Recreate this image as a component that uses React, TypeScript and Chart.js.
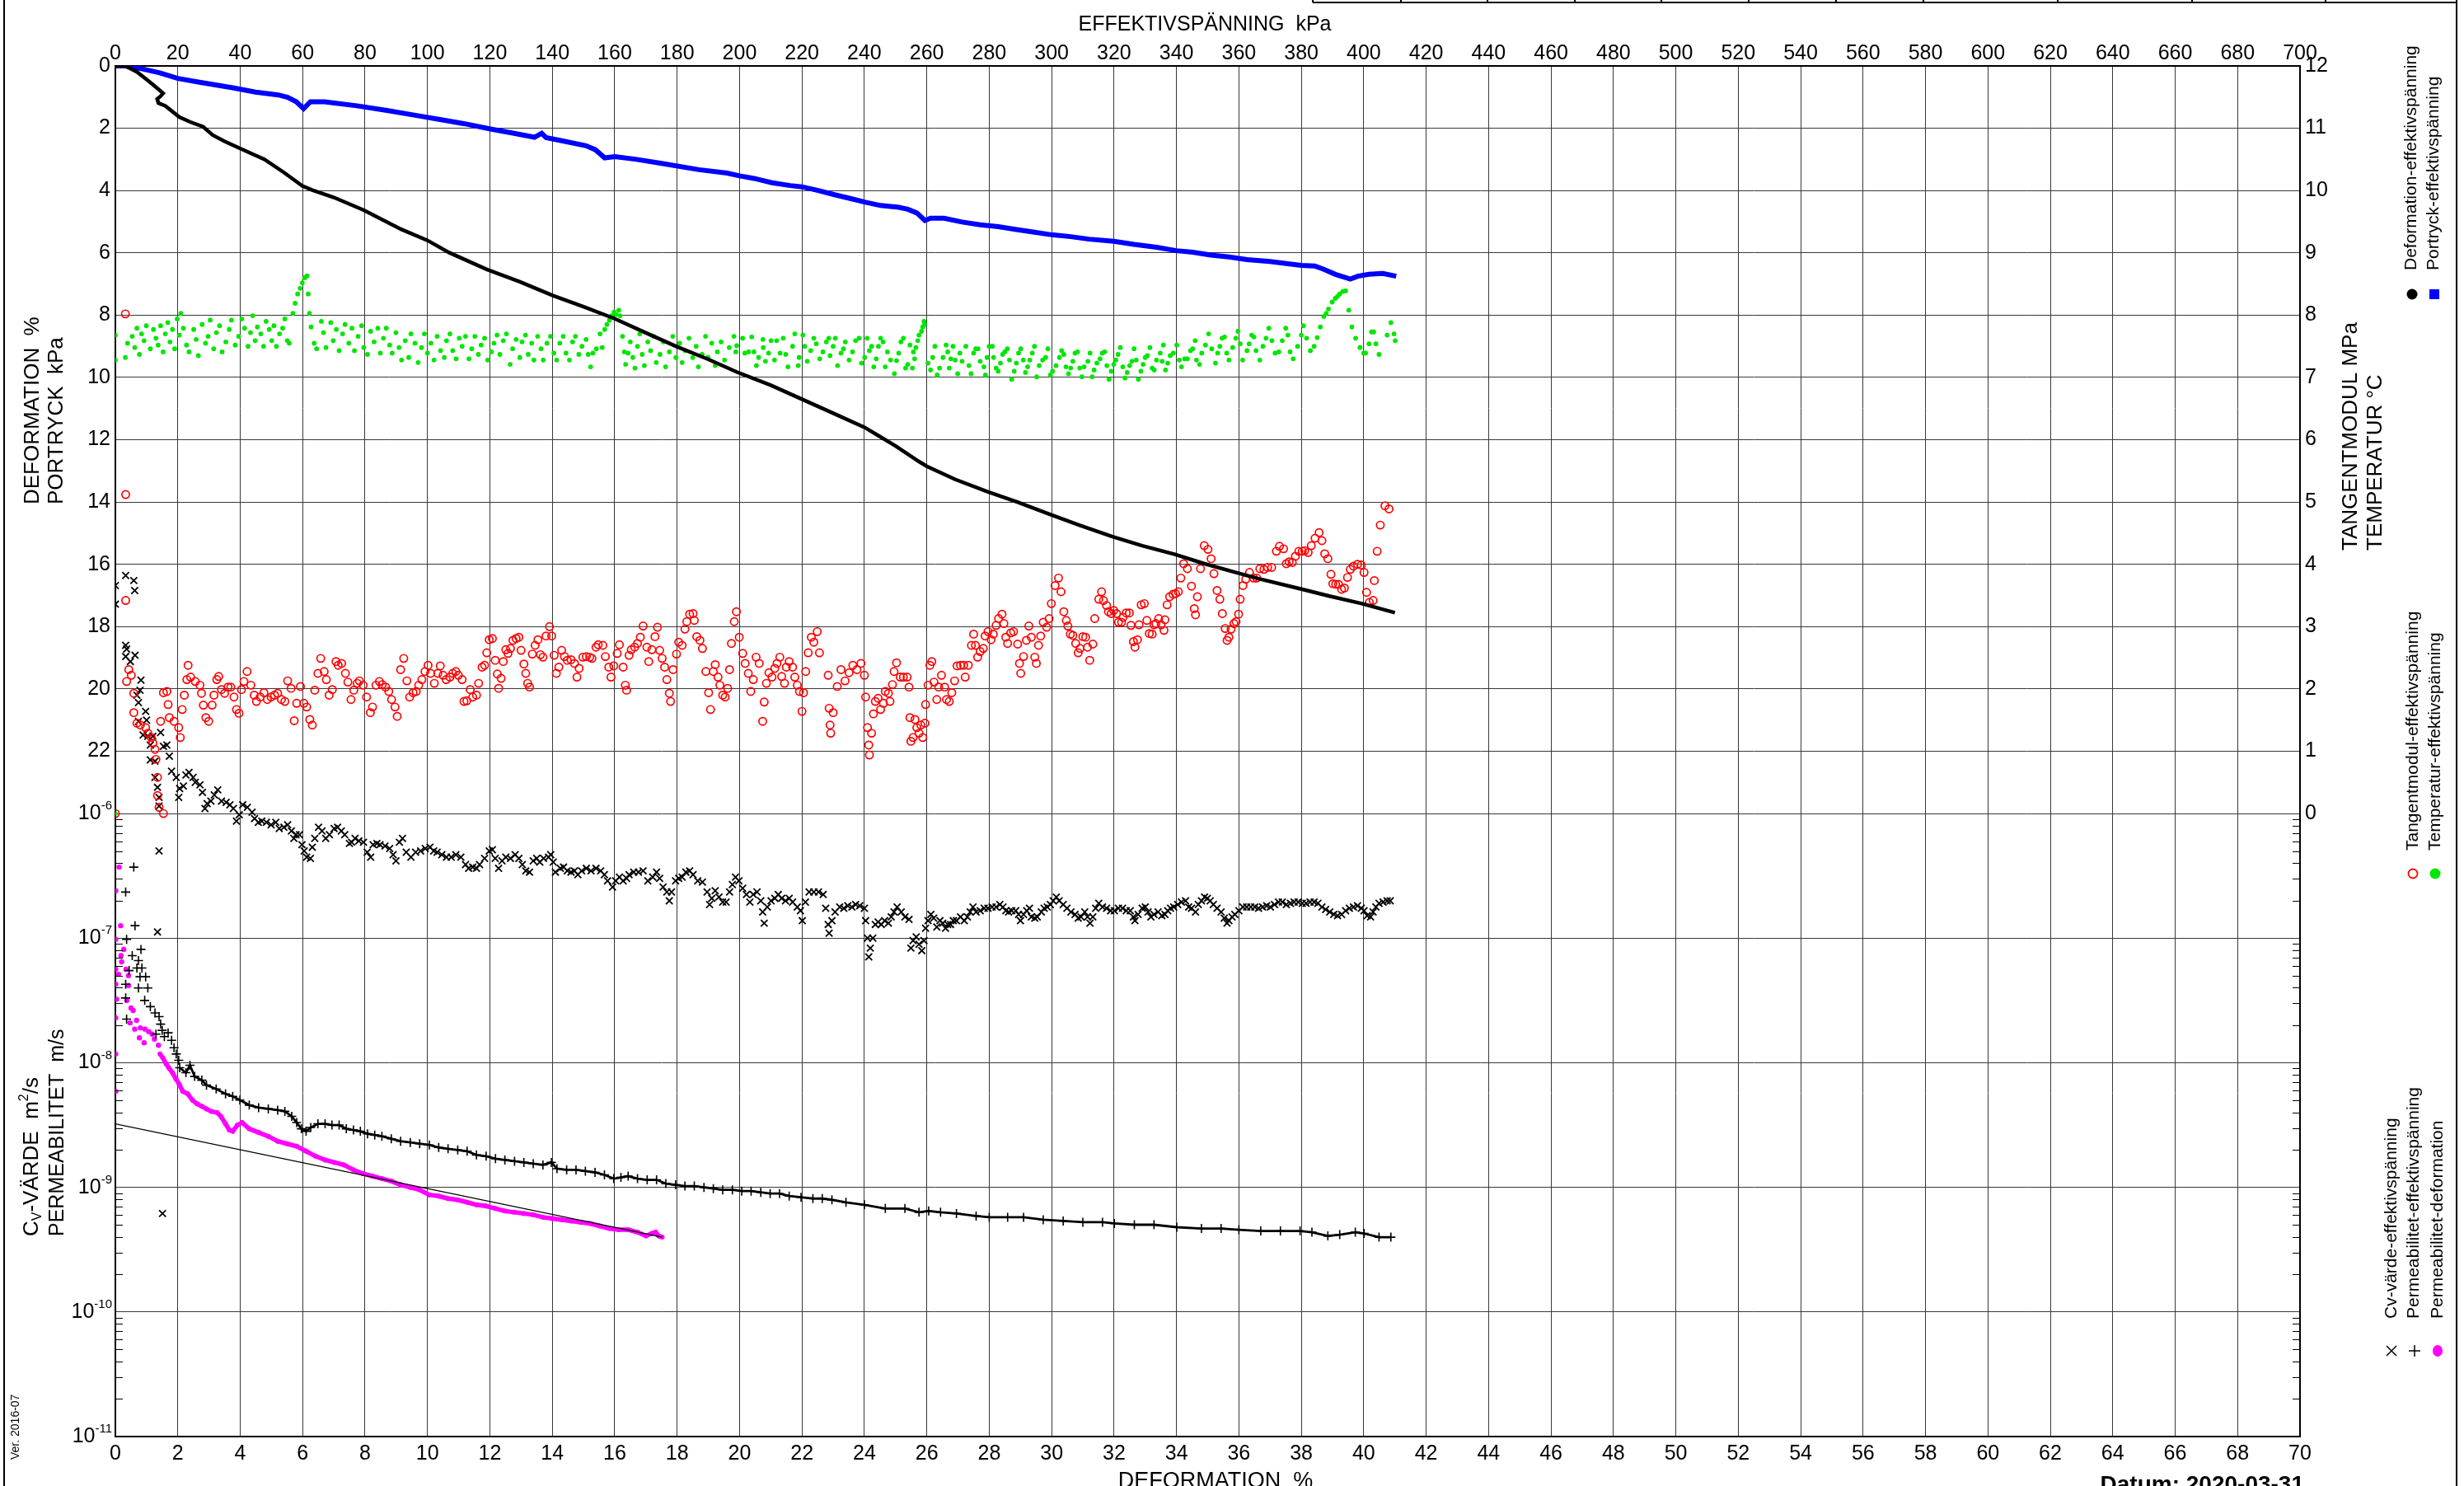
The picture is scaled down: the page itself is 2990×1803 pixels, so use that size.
import React, { useEffect, useRef } from 'react';
import { Chart, registerables } from 'chart.js';
Chart.register(...registerables);

const FONT = '"Liberation Sans", Arial, Helvetica, sans-serif';

// ---------- tick labels ----------
const kpaTicks = [0,20,40,60,80,100,120,140,160,180,200,220,240,260,280,300,320,340,360,380,400,420,440,460,480,500,520,540,560,580,600,620,640,660,680,700];
const defTicks = [0,2,4,6,8,10,12,14,16,18,20,22,24,26,28,30,32,34,36,38,40,42,44,46,48,50,52,54,56,58,60,62,64,66,68,70];
const leftTicks = [0,2,4,6,8,10,12,14,16,18,20,22];
const rightTicks = [0,1,2,3,4,5,6,7,8,9,10,11,12];
const logExps = [-6,-7,-8,-9,-10,-11];
const minorMant = [2,3,4,5,6,7,8,9];
const minorExps = [-11,-10,-9,-8,-7];

// ---------- series (x = effective stress kPa unless noted) ----------
// Deformation % vs effective stress
const defCurve = [[0,0],[3.2,0],[6.9,0.19],[10.7,0.49],[13.8,0.75],[15.3,0.88],[14.5,0.97],[13.4,1.06],[13.8,1.19],[16,1.28],[20.5,1.64],[24,1.8],[28.1,1.95],[31.2,2.22],[35,2.42],[40.2,2.66],[47.8,3.0],[54,3.42],[59.9,3.85],[62.9,3.98],[70,4.22],[79.6,4.63],[91.7,5.25],[100,5.6],[106.9,5.99],[119,6.53],[129.6,6.93],[140.2,7.37],[150,7.73],[159.9,8.11],[170,8.57],[179.6,9.0],[190,9.42],[199.2,9.83],[210,10.25],[220,10.7],[230,11.15],[240,11.6],[245,11.9],[250,12.2],[257.5,12.7],[260,12.85],[269,13.27],[279.3,13.66],[289,14.0],[299.3,14.39],[309,14.75],[319.5,15.11],[329,15.4],[339.5,15.68],[349,15.98],[359.3,16.27],[366.3,16.46],[379.5,16.78],[389,17.02],[399.4,17.26],[410,17.55]];

// Pore pressure kPa vs effective stress
const poreCurve = [[0,0],[3.2,0],[8.4,0.09],[14.2,0.22],[20,0.4],[27.3,0.53],[37.6,0.7],[44.9,0.84],[52.2,0.93],[55.2,1.01],[58,1.15],[60.3,1.37],[62.5,1.15],[67,1.15],[77.4,1.28],[87,1.43],[96.5,1.59],[104,1.72],[111.6,1.85],[120.5,2.03],[127,2.15],[134.3,2.29],[136.6,2.16],[138,2.3],[143,2.4],[150.8,2.56],[153.8,2.69],[156.8,2.95],[160,2.91],[167,3.0],[175,3.13],[187,3.33],[196,3.44],[200,3.53],[204.6,3.61],[210.4,3.75],[216.2,3.84],[220,3.88],[224.9,3.99],[230.7,4.14],[236.5,4.28],[240,4.37],[245.2,4.48],[251,4.54],[253.9,4.6],[256.8,4.72],[259.4,4.96],[261.2,4.89],[265.5,4.89],[271.3,5.01],[277.1,5.1],[282.9,5.16],[288.7,5.25],[294.5,5.34],[299.9,5.42],[306.1,5.48],[311.9,5.56],[319.9,5.63],[326.4,5.73],[333.6,5.82],[339.9,5.93],[345.2,5.98],[351,6.07],[356.8,6.13],[362.6,6.22],[369.9,6.28],[375.7,6.35],[380,6.4],[384.3,6.42],[387.2,6.53],[390.9,6.69],[395.7,6.84],[398.1,6.75],[401.7,6.69],[406.1,6.66],[410.4,6.75]];

// Tangent modulus MPa vs effective stress
const modPts = [[0,0],[3.2,8.02],[3.3,5.12],[3.3,3.42],[4.3,2.31],[3.6,2.12],[5.1,2.22],[5.9,1.93],[5.9,1.62],[6.9,1.45],[8,1.42],[9.7,1.38],[10.4,1.29],[11.5,1.22],[12,1.13],[12.7,1.03],[13,0.87],[13.5,0.58],[13.5,0.29],[14,0.1],[15.4,0.0],[14.5,1.48],[15.4,1.94],[16.5,1.96],[16.9,1.75],[17.3,1.54],[18.8,1.48],[20.3,1.38],[20.8,1.22],[21.4,1.67],[22.1,1.9],[22.9,2.15],[23.3,2.38],[24.1,2.19],[25.6,2.12],[27.1,2.06],[27.6,1.93],[28.2,1.74],[29,1.54],[29.9,1.48],[31,1.74],[31.6,1.9],[32.5,2.15],[33.1,2.2],[34,1.99],[35,1.93],[36.1,2.03],[37,2.03],[38,1.87],[38.8,1.67],[39.6,1.61],[40.4,1.99],[41.2,2.12],[42.2,2.28],[43.4,2.06],[44.5,1.9],[45.2,1.8],[46.4,1.87],[47.6,1.94],[48.7,1.83],[49.9,1.87],[51,1.9],[52,1.93],[53.2,1.83],[54.3,1.8],[55.2,2.13],[56.3,2.01],[57.3,1.49],[58.1,1.77],[59.3,2.04],[60.4,1.77],[61.3,1.71],[62.3,1.51],[63.1,1.42],[63.9,1.98],[64.9,2.25],[65.8,2.49],[66.9,2.28],[67.6,2.15],[68.5,1.9],[69.5,1.99],[70.7,2.44],[71.4,2.38],[72.5,2.41],[73.7,2.25],[74.5,2.11],[75.5,1.83],[76.4,1.98],[77.5,2.09],[78.2,2.13],[79.4,2.06],[80.5,1.87],[81.7,1.62],[82.4,1.71],[83.5,2.06],[84.6,2.12],[85.5,2.07],[86.6,2.03],[87.6,1.96],[88.5,1.83],[89.6,1.71],[90.3,1.56],[91.4,2.31],[92.4,2.49],[93.4,2.13],[94.3,1.87],[95.4,1.94],[96.4,1.96],[97.2,2.06],[98.2,2.15],[99.2,2.28],[100.2,2.38],[101,2.25],[102.2,2.09],[103.3,2.25],[104.1,2.37],[105,2.22],[106,2.15],[107.2,2.19],[108.1,2.25],[109.1,2.28],[109.9,2.22],[111.1,2.15],[111.7,1.8],[112.6,1.81],[113.7,1.99],[114.5,1.87],[115.7,1.9],[116.4,2.09],[117.5,2.35],[118.3,2.38],[119,2.58],[119.8,2.79],[120.8,2.81],[121.7,2.46],[122.4,2.24],[122.8,2.01],[123.6,2.17],[124.3,2.44],[125.1,2.63],[125.8,2.57],[126.6,2.65],[127.4,2.78],[128.4,2.81],[129.3,2.83],[130,2.62],[130.9,2.4],[131.5,2.25],[132.1,2.09],[132.7,2.03],[133.6,2.56],[134.5,2.7],[135.4,2.79],[136.2,2.55],[137,2.51],[138,2.85],[139.1,3.0],[139.8,2.85],[140.6,2.54],[141.3,2.25],[142.1,2.35],[143,2.62],[143.9,2.52],[144.8,2.46],[146,2.47],[147.1,2.41],[147.9,2.19],[148.6,2.33],[149.8,2.51],[150.9,2.52],[152,2.51],[152.7,2.49],[154,2.67],[154.7,2.71],[156.2,2.7],[157,2.52],[158.1,2.35],[158.8,2.19],[159.7,2.37],[160.8,2.57],[161.5,2.71],[162.7,2.35],[163.4,2.06],[163.8,1.98],[164.6,2.54],[165.3,2.63],[166.4,2.67],[167.3,2.73],[168.2,2.83],[169.1,3.01],[170.3,2.67],[170.9,2.44],[171.9,2.63],[172.9,2.84],[173.7,2.99],[174.4,2.62],[175.2,2.49],[176,2.35],[176.7,2.15],[177.5,1.93],[177.9,1.8],[178.7,2.31],[179.8,2.56],[180.5,2.75],[181.6,2.7],[182.5,2.96],[183.1,3.08],[184,3.2],[185.1,3.21],[185.5,3.1],[186.3,2.84],[187.3,2.78],[188.1,2.65],[189.2,2.28],[190.1,1.94],[190.7,1.67],[191.6,2.28],[192.2,2.39],[193.1,2.19],[193.7,2.06],[194.6,1.9],[195.4,1.87],[196.2,2.01],[196.8,2.31],[197.4,2.73],[198.3,3.08],[199,3.24],[199.9,2.83],[201,2.57],[201.8,2.41],[202.8,2.25],[203.6,1.96],[204.4,2.15],[205.3,2.51],[206.3,2.41],[207.4,1.48],[207.9,1.79],[208.6,2.09],[209.4,2.26],[210.4,2.19],[211.3,2.33],[212,2.41],[212.9,2.51],[213.5,2.2],[214.4,2.09],[215,2.35],[215.9,2.44],[217,2.35],[217.7,2.19],[218.5,2.06],[219.2,1.96],[220,1.64],[220.5,1.94],[221.2,2.28],[222,2.58],[223,2.83],[223.8,2.75],[224.9,2.92],[225.6,2.58],[228.4,2.22],[228.7,1.69],[229,1.42],[229.2,1.29],[230,1.62],[231.3,2.04],[232.5,2.31],[233.8,2.13],[235.1,2.26],[236.3,2.38],[237.6,2.31],[238.9,2.41],[240,2.22],[240.4,1.87],[241,1.38],[241.4,1.1],[241.6,0.94],[242.3,1.29],[242.9,1.6],[243.5,1.8],[244.4,1.85],[245.2,1.67],[246.1,1.77],[246.7,1.96],[247.7,1.93],[248.2,1.8],[249,2.07],[249.5,2.28],[250.3,2.42],[251.5,2.19],[252.5,2.19],[253.7,2.19],[254.3,2.03],[254.6,1.54],[254.9,1.16],[255.6,1.22],[256.2,1.51],[256.8,1.38],[257.5,1.29],[258.1,1.42],[258.7,1.22],[259.4,1.45],[259.6,1.75],[260.4,2.06],[261,2.38],[261.6,2.44],[262.3,2.11],[263.2,1.83],[263.8,2.03],[264.7,2.22],[265.7,2.03],[266.3,1.83],[267.2,1.8],[268,1.94],[268.9,2.13],[269.7,2.37],[270.8,2.38],[271.8,2.38],[272.3,2.19],[273.3,2.38],[274.3,2.7],[275,2.88],[275.6,2.7],[276.3,2.51],[277.1,2.6],[278.1,2.65],[278.7,2.85],[279.6,2.92],[280.6,2.79],[281.3,2.88],[282.2,3.02],[283,3.13],[284.1,3.2],[284.7,3.05],[285.3,2.83],[285.9,2.73],[286.9,2.9],[287.8,2.92],[289.1,2.72],[289.7,2.41],[290.1,2.25],[291,2.52],[291.9,2.78],[292.7,3.01],[293.5,2.83],[294.6,2.51],[295.1,2.41],[295.8,2.7],[296.5,2.85],[297.3,3.07],[298.4,2.99],[299.2,3.13],[299.9,3.37],[301.1,3.66],[302.2,3.78],[303,3.56],[303.9,3.24],[304.7,3.1],[305.2,3.01],[306,2.88],[306.8,2.86],[307.7,2.73],[308.5,2.58],[309.1,2.65],[310,2.84],[310.9,2.83],[311.5,2.67],[312.2,2.46],[313.2,2.72],[313.8,3.13],[315.1,3.44],[316,3.56],[316.6,3.42],[317.6,3.34],[318.2,3.24],[319.1,3.21],[319.9,3.26],[320.8,3.21],[321.4,3.07],[322.4,3.07],[322.9,3.15],[323.9,3.22],[324.9,3.22],[325.4,3.02],[326.2,2.76],[326.7,2.67],[327.5,2.79],[328,3.03],[328.7,3.35],[329.7,3.37],[330.5,3.1],[331.3,2.89],[332.2,2.88],[332.8,3.03],[333.4,3.05],[334.3,3.13],[335.1,3.03],[336,2.94],[336.3,3.11],[337,3.35],[337.8,3.48],[338.9,3.52],[339.7,3.53],[340.6,3.56],[341.4,3.78],[342.3,4.01],[343.5,3.93],[344.8,3.65],[345.7,3.29],[346.1,3.19],[346.7,3.48],[347.7,3.93],[348.9,4.3],[350.1,4.24],[351.1,4.09],[352,3.85],[353,3.58],[353.9,3.44],[354.7,3.21],[355.6,2.97],[356.2,2.78],[356.8,2.83],[357.5,2.96],[358.4,3.05],[359.1,3.08],[359.9,3.2],[360.4,3.44],[361.3,3.66],[362.2,3.76],[363.4,3.87],[364.7,3.78],[365.7,3.78],[366.7,3.93],[368,3.92],[369.2,3.95],[370.5,3.95],[372,4.21],[373,4.29],[374.3,4.25],[375.2,4.01],[376.1,4.04],[377.1,4.03],[378.1,4.13],[379.2,4.21],[380.3,4.21],[381.1,4.22],[382.2,4.19],[383.2,4.3],[384.4,4.42],[385.7,4.51],[386.6,4.38],[387.5,4.17],[388.5,4.09],[389.5,3.84],[390.1,3.69],[391,3.68],[391.9,3.68],[392.9,3.6],[393.8,3.62],[394.8,3.79],[395.7,3.92],[396.7,3.97],[398,4.0],[399.2,3.99],[400.1,3.87],[400.9,3.55],[401.8,3.39],[403,3.42],[403.4,3.74],[404.3,4.21],[405.3,4.63],[406.8,4.94],[408.1,4.89]];

// Temperature °C vs effective stress
const tempPts = [[0,0],[0,7.68],[0,7.28],[3.9,7.55],[3.2,7.32],[5.4,7.66],[6.2,7.48],[6.9,7.79],[7.7,7.37],[8.4,7.7],[9.2,7.59],[9.9,7.83],[11.2,7.46],[12.2,7.77],[13,7.63],[13.7,7.52],[14.5,7.83],[15.3,7.41],[16,7.7],[16.8,7.88],[17.5,7.57],[18.3,7.77],[19,7.46],[19.8,7.94],[20.5,7.68],[21,8.03],[21.8,7.79],[22.8,7.52],[23.6,7.41],[25.1,7.77],[25.9,7.61],[26.6,7.35],[27.8,7.85],[28.9,7.55],[29.7,7.66],[30.4,7.92],[31.5,7.46],[32.4,7.72],[33.4,7.83],[34.2,7.41],[35.4,7.57],[36.5,7.77],[37.2,7.92],[38.4,7.52],[39.5,7.66],[40.5,7.94],[41.4,7.79],[42.5,7.5],[43.3,7.72],[44,7.99],[44.8,7.59],[45.5,7.81],[46.6,7.7],[47.5,7.5],[48.3,7.9],[49.3,7.77],[50.1,7.59],[50.8,7.83],[51.6,7.5],[52.6,7.7],[53.6,7.79],[54.3,7.94],[55.1,7.59],[55.7,7.55],[56.9,8.03],[57.6,8.19],[58.4,8.34],[59.2,8.43],[59.9,8.52],[60.7,8.6],[61.4,8.63],[61.8,8.34],[62.2,8.03],[62.7,7.81],[63.7,7.55],[64.5,7.46],[66,7.9],[66.7,7.72],[67.5,7.48],[69,7.88],[69.8,7.59],[70.8,7.77],[71.7,7.43],[72.8,7.7],[73.6,7.85],[74.8,7.55],[75.8,7.79],[76.6,7.43],[77.8,7.66],[78.9,7.83],[79.6,7.48],[80.8,7.37],[81.8,7.74],[82.9,7.57],[84.1,7.79],[84.9,7.39],[85.9,7.63],[86.8,7.79],[87.9,7.52],[88.7,7.39],[89.9,7.72],[90.9,7.48],[91.7,7.28],[92.9,7.59],[94,7.32],[94.7,7.7],[96,7.55],[97,7.24],[98.1,7.48],[99,7.7],[100,7.39],[101.1,7.55],[102.1,7.28],[103.1,7.66],[104.2,7.43],[105.4,7.32],[106.1,7.59],[107.2,7.7],[108.1,7.43],[109.2,7.3],[110.2,7.63],[111.1,7.5],[112.2,7.66],[113.3,7.3],[114.2,7.46],[115.2,7.66],[116.3,7.37],[117.2,7.52],[118.3,7.63],[119.3,7.28],[120.5,7.41],[121.3,7.55],[122.3,7.68],[123.2,7.37],[124.3,7.59],[125.3,7.7],[126.5,7.21],[127.3,7.46],[128.4,7.61],[129.6,7.32],[130.3,7.57],[131.4,7.68],[132.3,7.37],[133.4,7.55],[134.1,7.28],[135.3,7.66],[136.4,7.46],[137.1,7.28],[138.3,7.55],[139.4,7.66],[140.5,7.39],[141.4,7.28],[142.4,7.55],[143.5,7.66],[144.4,7.39],[145.5,7.28],[146.5,7.57],[147.4,7.66],[148.5,7.37],[149.5,7.5],[150.8,7.61],[151.5,7.37],[152.3,7.17],[153,7.39],[154.1,7.46],[155.3,7.7],[156,7.48],[156.8,7.77],[157.5,7.85],[158.3,7.92],[159,7.99],[159.8,8.05],[160.5,8.01],[161.3,8.08],[161.7,7.99],[162.5,7.66],[163.1,7.41],[163.5,7.21],[164.3,7.39],[165,7.57],[165.8,7.32],[166.5,7.15],[167.3,7.5],[168,7.7],[168.8,7.37],[169.5,7.19],[170.6,7.57],[171.5,7.43],[172.5,7.66],[173.3,7.24],[174.5,7.37],[175.6,7.57],[176.3,7.17],[177.5,7.41],[178.6,7.66],[179.6,7.32],[180.8,7.55],[181.6,7.24],[182.6,7.43],[183.8,7.63],[185,7.32],[186.1,7.5],[186.8,7.17],[188,7.37],[189.1,7.66],[189.9,7.32],[191.1,7.55],[192.2,7.19],[192.9,7.41],[194.1,7.57],[195.2,7.28],[196.7,7.48],[198.2,7.66],[198.8,7.41],[199.1,7.51],[201,7.63],[201.7,7.39],[202.9,7.41],[203.9,7.65],[204.6,7.41],[205.4,7.19],[206.1,7.32],[207.5,7.61],[207.6,7.48],[208.3,7.26],[209.3,7.39],[210.1,7.59],[211.2,7.28],[211.9,7.59],[213,7.39],[214,7.63],[214.8,7.37],[215.5,7.17],[217,7.5],[217.7,7.7],[218.8,7.19],[219.1,7.32],[220.3,7.68],[220.9,7.5],[221.7,7.26],[222.8,7.43],[223.8,7.63],[224.6,7.54],[225.7,7.3],[226.7,7.41],[227.8,7.57],[228.6,7.63],[229,7.35],[230,7.5],[230.7,7.63],[231.4,7.19],[232.5,7.39],[233.3,7.46],[233.9,7.57],[235.1,7.28],[236.2,7.41],[237.2,7.59],[238.3,7.63],[239.1,7.23],[240.1,7.32],[240.9,7.63],[241.6,7.43],[242.3,7.5],[243,7.17],[243.8,7.3],[244.5,7.5],[245.2,7.63],[246,7.57],[246.7,7.17],[247.4,7.41],[248.4,7.28],[249.6,7.06],[250.3,7.27],[251,7.39],[251.7,7.57],[252.5,7.63],[253.2,7.15],[253.9,7.21],[254.6,7.52],[255.4,7.15],[255.7,7.41],[256.1,7.3],[256.5,7.48],[257.1,7.59],[257.5,7.68],[258.3,7.74],[258.7,7.81],[259.1,7.9],[259.3,7.85],[260.4,7.23],[261.2,7.12],[261.9,7.32],[262.6,7.5],[263.3,7.04],[264.1,7.15],[265.2,7.32],[266.2,7.52],[266.7,7.41],[267.2,7.15],[267.7,7.3],[268.4,7.5],[269.1,7.28],[269.9,7.06],[270.6,7.39],[271.3,7.26],[272.5,7.5],[273.5,7.19],[274.2,7.06],[275,7.39],[275.7,7.46],[276.4,7.46],[277.1,7.26],[278.3,7.17],[278.8,7.04],[279.3,7.32],[280,7.5],[281,7.5],[281.4,7.32],[282.2,7.15],[282.9,7.1],[283.6,7.23],[284.3,7.37],[285,7.41],[285.8,7.46],[286.5,7.28],[287.2,6.97],[288,7.1],[288.7,7.23],[289.4,7.39],[290.1,7.46],[290.9,7.28],[291.6,7.08],[292.3,7.17],[293,7.28],[293.8,7.39],[294.5,7.5],[295.2,7.01],[296,7.19],[297.1,7.28],[298.1,7.32],[298.8,7.46],[299.6,7.04],[300.3,7.1],[301.4,7.19],[302.5,7.32],[303.2,7.43],[303.9,7.37],[304.6,7.17],[305.4,7.06],[306.1,7.15],[306.8,7.26],[307.5,7.39],[308.3,7.41],[309,7.15],[309.7,7.01],[310.4,7.17],[311.6,7.26],[312.3,7.39],[313,7.01],[313.6,7.12],[314.5,7.23],[315.5,7.3],[316.2,7.39],[317,7.41],[317.7,7.19],[318.4,6.97],[319.1,7.1],[319.9,7.21],[320.6,7.28],[321.3,7.37],[322,7.48],[322.8,7.17],[323.5,6.99],[324.2,7.08],[325,7.19],[325.7,7.26],[326.4,7.46],[327.1,7.28],[327.8,6.97],[328.6,7.1],[329.3,7.21],[330,7.32],[330.7,7.35],[331.5,7.48],[332.2,7.15],[332.9,7.12],[333.6,7.28],[334.8,7.39],[335.4,7.26],[335.8,7.52],[336.5,7.12],[337.2,7.23],[338,7.35],[339,7.39],[340.1,7.52],[340.9,7.28],[341.6,7.17],[342.6,7.3],[343.5,7.3],[344.5,7.43],[345.2,7.46],[346,7.59],[346.4,7.28],[347.4,7.21],[348.1,7.39],[349.3,7.52],[350.3,7.7],[351.3,7.46],[352.5,7.23],[353.2,7.39],[353.9,7.5],[354.6,7.63],[355.4,7.65],[356.1,7.39],[356.8,7.28],[358,7.48],[359,7.63],[359.7,7.74],[360.4,7.54],[361.2,7.28],[362.6,7.43],[363.3,7.54],[364.1,7.68],[364.8,7.65],[365.5,7.43],[366.7,7.28],[367.7,7.5],[368.7,7.63],[369.6,7.79],[370.6,7.59],[371.6,7.39],[372.8,7.41],[373.9,7.59],[375,7.79],[375.7,7.68],[376.4,7.41],[377.4,7.3],[378.8,7.5],[380,7.68],[380.7,7.83],[381.7,7.63],[382.9,7.43],[384.1,7.5],[385.1,7.64],[386.1,7.81],[387.2,7.98],[388,8.03],[388.7,8.1],[389.9,8.21],[390.9,8.27],[391.6,8.3],[392.3,8.34],[393.3,8.38],[394.2,8.39],[395.2,8.08],[396.2,7.81],[397.4,7.63],[398.8,7.48],[400,7.39],[400.6,7.39],[401.7,7.54],[402.5,7.73],[403.2,7.73],[403.9,7.54],[404.9,7.37],[407.5,7.68],[408.7,7.88],[409.7,7.7],[410.1,7.59]];

// Cv-value (log10 of m2/s) vs effective stress
const cvPts = [[0,-4.17],[0,-4.32],[3.3,-4.09],[5.9,-4.13],[6.2,-4.21],[3.3,-4.65],[3.6,-4.68],[3.3,-4.74],[4.8,-4.78],[6.3,-4.73],[8.2,-4.93],[7.9,-5.01],[6.9,-5.05],[7.4,-5.11],[9.7,-5.18],[7.4,-5.26],[10,-5.25],[8.9,-5.37],[10.4,-5.38],[11.2,-5.45],[12,-5.38],[11.2,-5.57],[12.7,-5.58],[12.7,-5.71],[13.5,-5.79],[14,-5.87],[14,-5.94],[14.5,-5.35],[15.4,-5.46],[16.5,-5.45],[17.3,-5.54],[18,-5.66],[14,-6.3],[13.5,-6.95],[15.1,-9.21],[19.5,-5.71],[20.6,-5.8],[20.3,-5.87],[21.8,-5.78],[22.6,-5.69],[23.6,-5.67],[24.9,-5.71],[25.6,-5.75],[27.1,-5.77],[27.9,-5.83],[28.7,-5.96],[29.4,-5.92],[30.6,-5.9],[31.7,-5.85],[32.8,-5.81],[34,-5.9],[35.5,-5.91],[36.7,-5.93],[37.8,-5.96],[38.8,-6.06],[39.7,-6.01],[40.8,-5.93],[42.3,-5.95],[43.8,-5.99],[44.6,-6.04],[45.8,-6.07],[46.9,-6.06],[48.4,-6.07],[49.9,-6.09],[51.4,-6.07],[52.5,-6.12],[54,-6.11],[55.2,-6.09],[56.4,-6.14],[57.2,-6.2],[57.9,-6.17],[59,-6.17],[59.8,-6.25],[60.5,-6.3],[61.3,-6.35],[62.5,-6.36],[63.1,-6.27],[63.9,-6.2],[65.1,-6.11],[66.2,-6.14],[67.4,-6.2],[68.6,-6.17],[70.1,-6.12],[71.2,-6.11],[72.4,-6.14],[73.5,-6.17],[75,-6.24],[75.7,-6.23],[76.8,-6.2],[78,-6.22],[79.5,-6.23],[80.7,-6.31],[81.8,-6.35],[82.6,-6.25],[83.8,-6.24],[84.8,-6.25],[86.4,-6.26],[87.9,-6.28],[89,-6.33],[89.9,-6.38],[91,-6.23],[92,-6.2],[93.2,-6.31],[94.7,-6.35],[96.2,-6.31],[97.8,-6.3],[99.3,-6.28],[100.8,-6.27],[102,-6.3],[103.1,-6.31],[104.6,-6.33],[106.1,-6.35],[107.6,-6.35],[109.1,-6.33],[110.7,-6.35],[112.2,-6.41],[113.2,-6.44],[114.5,-6.43],[115.7,-6.44],[116.7,-6.41],[118.3,-6.36],[119.8,-6.3],[120.8,-6.29],[121.7,-6.36],[122.8,-6.44],[123.9,-6.38],[125.1,-6.35],[126.6,-6.36],[128.1,-6.33],[129.3,-6.36],[130.4,-6.41],[131.5,-6.46],[132.7,-6.47],[133.9,-6.38],[135,-6.36],[136,-6.39],[137.2,-6.36],[138.8,-6.35],[139.5,-6.33],[140.3,-6.39],[141,-6.47],[142.6,-6.44],[143.6,-6.43],[144.8,-6.46],[146,-6.47],[147.1,-6.46],[148.2,-6.49],[149.4,-6.46],[150.9,-6.44],[152.4,-6.46],[154,-6.44],[155.5,-6.46],[156.7,-6.49],[157.7,-6.54],[159.3,-6.59],[160.3,-6.54],[161.5,-6.51],[162.7,-6.54],[163.8,-6.52],[164.6,-6.49],[166.1,-6.47],[167.6,-6.47],[169.1,-6.46],[170.6,-6.54],[172.2,-6.51],[173.4,-6.47],[174.4,-6.52],[175.5,-6.59],[176.7,-6.63],[177.5,-6.7],[178.2,-6.63],[179.5,-6.54],[180.5,-6.52],[181.6,-6.51],[182.8,-6.47],[184,-6.46],[185.1,-6.49],[186.6,-6.54],[188.1,-6.55],[189.6,-6.63],[190.4,-6.73],[191.1,-6.68],[192.2,-6.62],[193.4,-6.67],[194.6,-6.71],[195.7,-6.71],[196.8,-6.63],[197.7,-6.57],[198.7,-6.51],[199.8,-6.54],[201,-6.6],[202.2,-6.65],[203.3,-6.71],[204.4,-6.65],[205.6,-6.63],[206.8,-6.7],[207.4,-6.79],[207.9,-6.88],[208.9,-6.75],[210.1,-6.7],[211.3,-6.68],[212.4,-6.65],[213.5,-6.68],[214.7,-6.7],[215.9,-6.68],[217,-6.71],[218.5,-6.75],[219.5,-6.78],[220.1,-6.86],[221.1,-6.71],[222.3,-6.63],[223.8,-6.63],[225.3,-6.63],[226.8,-6.65],[227.6,-6.76],[228.4,-6.89],[228.7,-6.96],[229.6,-6.86],[230.6,-6.79],[232.1,-6.75],[233.4,-6.76],[234.7,-6.74],[236,-6.75],[237.2,-6.73],[238.5,-6.74],[240,-6.76],[240.4,-6.86],[241,-7.0],[241.4,-7.15],[241.9,-7.08],[242.7,-7.0],[243.5,-6.89],[244.4,-6.87],[245.4,-6.89],[246.5,-6.86],[247.7,-6.88],[248.6,-6.83],[249.5,-6.79],[250.5,-6.75],[251.8,-6.79],[253,-6.83],[254.3,-6.85],[254.9,-7.08],[255.6,-7.02],[256.6,-6.99],[257.5,-7.05],[258.4,-7.1],[259.1,-7.02],[259.6,-6.92],[260.4,-6.86],[261.3,-6.81],[262.2,-6.84],[263.2,-6.91],[264.2,-6.86],[265.1,-6.88],[266,-6.92],[266.7,-6.89],[267.6,-6.89],[268.5,-6.86],[269.5,-6.86],[270.8,-6.83],[272,-6.86],[273,-6.83],[273.9,-6.79],[274.8,-6.75],[275.8,-6.79],[277.1,-6.78],[278.4,-6.76],[279.6,-6.76],[280.9,-6.75],[282.2,-6.75],[283.4,-6.73],[284.4,-6.75],[285.3,-6.78],[286.2,-6.79],[287.2,-6.78],[288.5,-6.78],[289.4,-6.81],[290,-6.86],[291,-6.81],[292,-6.78],[292.9,-6.76],[293.5,-6.83],[294.6,-6.84],[295.4,-6.83],[296.7,-6.79],[297.6,-6.76],[298.6,-6.75],[299.6,-6.73],[300.5,-6.7],[301.5,-6.67],[302.4,-6.7],[303.7,-6.73],[304.9,-6.76],[306.2,-6.79],[307.5,-6.81],[308.5,-6.84],[309.4,-6.83],[310.6,-6.79],[311.5,-6.83],[312.3,-6.88],[313.2,-6.83],[314.1,-6.76],[315.1,-6.72],[316.3,-6.75],[317.6,-6.76],[318.9,-6.78],[320.1,-6.78],[321.4,-6.76],[322.7,-6.76],[323.9,-6.78],[325.2,-6.78],[326.2,-6.83],[326.7,-6.86],[327.7,-6.81],[329,-6.76],[330,-6.75],[330.9,-6.79],[331.8,-6.83],[332.8,-6.81],[334.1,-6.79],[335.3,-6.82],[336.3,-6.81],[337.2,-6.78],[338.1,-6.76],[339.1,-6.75],[340.4,-6.73],[341.6,-6.71],[342.9,-6.7],[343.9,-6.75],[344.8,-6.76],[346.1,-6.79],[347,-6.73],[348,-6.7],[349,-6.67],[349.9,-6.68],[350.8,-6.7],[351.8,-6.73],[353,-6.76],[354.3,-6.79],[355.3,-6.84],[356.2,-6.88],[356.8,-6.86],[357.8,-6.83],[358.7,-6.81],[360,-6.78],[361.3,-6.75],[362.5,-6.75],[363.8,-6.75],[365.1,-6.75],[366.3,-6.76],[367.6,-6.75],[368.9,-6.74],[370.1,-6.75],[371.4,-6.73],[372.7,-6.71],[373.9,-6.71],[375.2,-6.73],[376.5,-6.72],[377.7,-6.71],[379,-6.71],[380.3,-6.72],[381.5,-6.72],[382.8,-6.71],[384.1,-6.71],[385.3,-6.72],[386.6,-6.75],[387.8,-6.77],[389.1,-6.79],[390.4,-6.81],[391.6,-6.82],[392.9,-6.81],[394.2,-6.78],[395.4,-6.76],[396.7,-6.75],[398,-6.74],[399.2,-6.76],[400.1,-6.78],[401.1,-6.82],[402.2,-6.83],[403,-6.79],[403.9,-6.75],[404.9,-6.72],[406.2,-6.71],[407.5,-6.7],[408.5,-6.7]];

// Permeability (log10 of m/s) vs effective stress
const permEarlyPts = [[5.9,-6.43],[3.3,-6.63],[6.3,-6.9],[3.6,-7.01],[8.2,-7.09],[5.4,-7.14],[7.4,-7.18],[6.9,-7.24],[8.5,-7.24],[4.4,-7.26],[7.9,-7.31],[9.7,-7.31],[3.3,-7.37],[7.4,-7.4],[10.4,-7.4],[3.3,-7.48],[9.4,-7.5],[11.2,-7.55],[3.6,-7.65],[12.7,-7.6],[14,-7.63],[14.5,-7.69],[15,-7.74],[13,-7.77],[15.7,-7.79],[16.9,-7.76],[18,-7.82],[18.8,-7.88],[19.5,-7.93],[20.3,-7.98]];
const permPts = [[20.6,-8.04],[22.6,-8.08],[23.9,-8.02],[25.4,-8.11],[27.7,-8.14],[29.2,-8.18],[32.3,-8.21],[35.3,-8.25],[37.6,-8.27],[39.9,-8.3],[42.9,-8.34],[45.9,-8.36],[49,-8.37],[52,-8.38],[54.3,-8.39],[56.5,-8.43],[58.1,-8.48],[59.6,-8.53],[61.1,-8.55],[62.6,-8.52],[64.9,-8.49],[67.2,-8.49],[69.4,-8.5],[71.7,-8.5],[74,-8.53],[76.3,-8.54],[78.5,-8.55],[80.8,-8.57],[83.1,-8.58],[85.4,-8.59],[88.4,-8.61],[91.4,-8.63],[94.5,-8.64],[97.5,-8.65],[100.6,-8.66],[103.6,-8.68],[106.6,-8.69],[109.7,-8.7],[112.7,-8.71],[115.7,-8.74],[118.8,-8.75],[121.8,-8.77],[124.8,-8.78],[127.9,-8.79],[130.9,-8.8],[133.9,-8.81],[137,-8.82],[139.7,-8.8],[141.5,-8.85],[144.6,-8.86],[147.6,-8.86],[150.6,-8.87],[153.7,-8.88],[156.7,-8.9],[159.7,-8.93],[162,-8.92],[164.3,-8.91],[167.3,-8.93],[170.4,-8.94],[173.4,-8.94],[176.4,-8.97],[179.5,-8.98],[182.5,-8.99],[185.5,-8.99],[188.6,-9.0],[191.6,-9.01],[194.6,-9.02],[197.7,-9.02],[200.7,-9.03],[203.7,-9.03],[206.8,-9.04],[209.8,-9.05],[212.8,-9.05],[215.9,-9.07],[219.7,-9.08],[223.5,-9.09],[226.5,-9.09],[229.6,-9.1],[234.1,-9.12],[240,-9.14],[246.7,-9.17],[253,-9.17],[257.5,-9.2],[260.6,-9.19],[264.4,-9.2],[269.5,-9.21],[275.8,-9.23],[280,-9.24],[285.9,-9.24],[291,-9.24],[297.3,-9.26],[303.7,-9.27],[310,-9.28],[316.3,-9.28],[320.1,-9.29],[326.5,-9.3],[332.8,-9.3],[340.1,-9.32],[348,-9.33],[354.3,-9.33],[360,-9.34],[367,-9.35],[373.3,-9.35],[379.6,-9.35],[383.4,-9.36],[388.5,-9.39],[392.3,-9.38],[397.3,-9.36],[400.1,-9.37],[404.9,-9.4],[408.7,-9.4]];

// Permeability (log10 of m/s) vs deformation %
const kDefEarlyPts = [[0.12,-6.43],[0.01,-6.62],[0.17,-6.9],[0.01,-7.01],[0.27,-7.09],[0.18,-7.14],[0.2,-7.19],[0.34,-7.25],[0.01,-7.25],[0.1,-7.29],[0.42,-7.3],[0.01,-7.37],[0.42,-7.38],[0.04,-7.49],[0.37,-7.5],[0.5,-7.56],[0.57,-7.58],[0.01,-7.64],[0.68,-7.66],[0.47,-7.68],[0.62,-7.73],[0.8,-7.72],[0.95,-7.73],[0.77,-7.8],[0.92,-7.84],[1.07,-7.75],[1.18,-7.77],[1.25,-7.81],[1.38,-7.86],[0.01,-7.93],[0.01,-8.23]];
const kDefPts = [[1.43,-7.93],[1.52,-7.96],[1.63,-8.01],[1.71,-8.04],[1.83,-8.08],[1.94,-8.13],[2.04,-8.17],[2.16,-8.23],[2.32,-8.25],[2.47,-8.3],[2.62,-8.33],[2.77,-8.35],[2.92,-8.37],[3.07,-8.39],[3.26,-8.4],[3.38,-8.43],[3.53,-8.49],[3.65,-8.54],[3.76,-8.55],[3.91,-8.5],[4.06,-8.48],[4.29,-8.53],[4.59,-8.56],[4.9,-8.59],[5.2,-8.63],[5.5,-8.65],[5.81,-8.67],[6.11,-8.71],[6.41,-8.75],[6.72,-8.78],[7.02,-8.8],[7.32,-8.82],[7.63,-8.86],[7.93,-8.89],[8.23,-8.91],[8.54,-8.93],[8.84,-8.95],[9.14,-8.98],[9.45,-9.0],[9.75,-9.02],[10.05,-9.06],[10.36,-9.07],[10.66,-9.09],[10.96,-9.1],[11.27,-9.12],[11.57,-9.14],[11.87,-9.15],[12.18,-9.17],[12.48,-9.19],[12.78,-9.2],[13.09,-9.21],[13.39,-9.22],[13.7,-9.24],[14,-9.25],[14.3,-9.26],[14.61,-9.27],[14.91,-9.28],[15.21,-9.29],[15.52,-9.31],[15.82,-9.33],[16.12,-9.34],[16.43,-9.34],[16.73,-9.36],[17.0,-9.39],[17.19,-9.37],[17.31,-9.36],[17.41,-9.39],[17.52,-9.4]];
const fitLine = [[0,-8.49],[17.52,-9.4]];

// ---------- helpers ----------
const pt = (a: number[][]) => a.map(([x, y]) => ({ x, y }));
const ptLog = (a: number[][]) => a.map(([x, e]) => ({ x, y: Math.pow(10, e) }));

const GRID = '#383838';

function vtext(c: any, str: string, x: number, y: number, size: number) {
  c.save();
  c.translate(x, y);
  c.rotate(-Math.PI / 2);
  c.font = `${size}px ${FONT}`;
  c.textAlign = 'left';
  c.textBaseline = 'middle';
  c.fillText(str, 0, 0);
  c.restore();
}

function vrich(c: any, parts: [string, number, number][], x: number, y: number) {
  c.save();
  c.translate(x, y);
  c.rotate(-Math.PI / 2);
  c.textAlign = 'left';
  c.textBaseline = 'middle';
  let px = 0;
  for (const [t, size, dy] of parts) {
    c.font = `${size}px ${FONT}`;
    c.fillText(t, px, dy);
    px += c.measureText(t).width;
  }
  c.restore();
}

const decor = {
  id: 'decor',
  beforeDraw(chart: any) {
    const c = chart.ctx;
    c.save();
    c.fillStyle = '#ffffff';
    c.fillRect(0, 0, chart.width, chart.height);
    c.restore();
  },
  afterDraw(chart: any) {
    const c = chart.ctx;
    const s = chart.scales;
    const a = chart.chartArea;
    c.save();
    c.fillStyle = '#000';
    c.strokeStyle = '#000';

    // minor log ticks (inside, both sides)
    c.lineWidth = 1;
    c.beginPath();
    for (const e of minorExps) {
      for (const m of minorMant) {
        const y = Math.round(s.yLog.getPixelForValue(m * Math.pow(10, e))) + 0.5;
        c.moveTo(a.left, y); c.lineTo(a.left + 9, y);
        c.moveTo(a.right, y); c.lineTo(a.right - 9, y);
      }
    }
    c.stroke();

    // top ticks
    c.font = `25px ${FONT}`;
    c.textAlign = 'center';
    c.textBaseline = 'alphabetic';
    for (const v of kpaTicks) c.fillText(String(v), s.xTop.getPixelForValue(v), a.top - 8);
    // bottom ticks
    c.textBaseline = 'top';
    for (const v of defTicks) c.fillText(String(v), s.xBot.getPixelForValue(v), a.bottom + 9);
    // left deformation ticks
    c.textAlign = 'right';
    c.textBaseline = 'middle';
    for (const v of leftTicks) c.fillText(String(v), a.left - 6, s.yDef.getPixelForValue(v));
    // right ticks
    c.textAlign = 'left';
    for (const v of rightTicks) c.fillText(String(v), a.right + 6, s.yR.getPixelForValue(v));
    // log ticks 10^n
    for (const e of logExps) {
      const y = s.yLog.getPixelForValue(Math.pow(10, e));
      c.textAlign = 'right';
      c.textBaseline = 'middle';
      c.font = `15px ${FONT}`;
      const es = String(e);
      const w = c.measureText(es).width;
      c.fillText(es, a.left - 4, y - 9);
      c.font = `25px ${FONT}`;
      c.fillText('10', a.left - 4 - w, y);
    }

    // axis titles
    c.font = `25px ${FONT}`;
    c.textAlign = 'center';
    c.textBaseline = 'alphabetic';
    c.fillText('EFFEKTIVSPÄNNING  kPa', 1462, 37);
    c.font = `27px ${FONT}`;
    c.textBaseline = 'top';
    c.fillText('DEFORMATION  %', 1475, 1784);

    vtext(c, 'DEFORMATION  %', 40, 612, 26);
    vtext(c, 'PORTRYCK  kPa', 69, 612, 26);
    vrich(c, [['C', 26, 0], ['V', 16, 7], ['-VÄRDE  m', 26, 0], ['2', 16, -9], ['/s', 26, 0]], 39, 1500);
    vtext(c, 'PERMEABILITET  m/s', 70, 1500, 25);
    vtext(c, 'TANGENTMODUL MPa', 2853, 668, 26);
    vtext(c, 'TEMPERATUR °C', 2883, 668, 26);
    vtext(c, 'Ver. 2016-07', 19, 1771, 14);

    // legends
    vtext(c, 'Deformation-effektivspänning', 2926, 328, 21);
    vtext(c, 'Portryck-effektivspänning', 2953, 328, 21);
    c.fillStyle = '#000';
    c.beginPath(); c.arc(2927, 357, 6.5, 0, Math.PI * 2); c.fill();
    c.fillStyle = '#0000ff';
    c.fillRect(2948, 351, 12, 12);

    c.fillStyle = '#000';
    vtext(c, 'Tangentmodul-effektivspänning', 2928, 1032, 21);
    vtext(c, 'Temperatur-effektivspänning', 2955, 1032, 21);
    c.strokeStyle = '#ff0000'; c.lineWidth = 1.8;
    c.beginPath(); c.arc(2928, 1060, 5.5, 0, Math.PI * 2); c.stroke();
    c.fillStyle = '#00e600';
    c.beginPath(); c.arc(2955, 1060, 6.5, 0, Math.PI * 2); c.fill();

    c.fillStyle = '#000';
    vtext(c, 'Cv-värde-effektivspänning', 2902, 1600, 21);
    vtext(c, 'Permeabilitet-effektivspänning', 2929, 1600, 21);
    vtext(c, 'Permeabilitet-deformation', 2958, 1600, 21);
    c.strokeStyle = '#000'; c.lineWidth = 1.5;
    c.beginPath();
    c.moveTo(2896, 1633); c.lineTo(2908, 1645); c.moveTo(2908, 1633); c.lineTo(2896, 1645);
    c.moveTo(2923, 1639); c.lineTo(2937, 1639); c.moveTo(2930, 1632); c.lineTo(2930, 1646);
    c.stroke();
    c.fillStyle = '#ff00ff';
    c.beginPath(); c.ellipse(2958, 1639, 6, 7, 0, 0, Math.PI * 2); c.fill();

    // date
    c.fillStyle = '#000';
    c.font = `bold 28px ${FONT}`;
    c.textAlign = 'right';
    c.textBaseline = 'top';
    c.fillText('Datum: 2020-03-31', 2796, 1788);

    // page frame & cut header table
    c.strokeStyle = '#000';
    c.lineWidth = 2;
    c.beginPath();
    c.moveTo(5, 0); c.lineTo(5, 1803);
    c.moveTo(2981, 0); c.lineTo(2981, 1803);
    c.moveTo(1593, 3); c.lineTo(2981, 3);
    for (const x of [1593, 1700, 1805, 1911, 2016, 2122, 2228, 2334, 2497, 2660, 2822]) {
      c.moveTo(x, 0); c.lineTo(x, 3);
    }
    c.stroke();
    c.restore();
  },
};

export default function App() {
  const ref = useRef<HTMLCanvasElement | null>(null);
  useEffect(() => {
    document.body.style.margin = '0';
    document.body.style.overflow = 'hidden';
    const canvas = ref.current;
    if (!canvas) return;
    const zeroW = (sc: any) => { sc.width = 0; };
    const zeroH = (sc: any) => { sc.height = 0; };
    const chart = new Chart(canvas, {
      type: 'scatter',
      data: {
        datasets: [
          { label: 'fit', data: ptLog(fitLine), xAxisID: 'xBot', yAxisID: 'yLog', showLine: true, borderColor: '#000', backgroundColor: '#000', borderWidth: 1.3, pointRadius: 0, order: 0 },
          { label: 'def', data: pt(defCurve), xAxisID: 'xTop', yAxisID: 'yDef', showLine: true, borderColor: '#000', backgroundColor: '#000', borderWidth: 4.5, pointRadius: 0, order: 1 },
          { label: 'pore', data: pt(poreCurve), xAxisID: 'xTop', yAxisID: 'yDef', showLine: true, borderColor: '#0000ff', backgroundColor: '#0000ff', borderWidth: 6, pointRadius: 0, order: 2 },
          { label: 'mod', data: pt(modPts), xAxisID: 'xTop', yAxisID: 'yR', pointStyle: 'circle', pointRadius: 4.6, borderColor: '#ff0000', backgroundColor: 'rgba(0,0,0,0)', borderWidth: 1.7, order: 3 },
          { label: 'temp', data: pt(tempPts), xAxisID: 'xTop', yAxisID: 'yR', pointStyle: 'circle', pointRadius: 2.9, borderColor: '#00e600', backgroundColor: '#00e600', borderWidth: 0, order: 4 },
          { label: 'cv', data: ptLog(cvPts), xAxisID: 'xTop', yAxisID: 'yLog', pointStyle: 'crossRot', pointRadius: 5.8, borderColor: '#000', backgroundColor: '#000', borderWidth: 1.8, order: 5 },
          { label: 'permEarly', data: ptLog(permEarlyPts), xAxisID: 'xTop', yAxisID: 'yLog', pointStyle: 'cross', pointRadius: 5.5, borderColor: '#000', backgroundColor: '#000', borderWidth: 1.6, order: 6 },
          { label: 'perm', data: ptLog(permPts), xAxisID: 'xTop', yAxisID: 'yLog', showLine: true, pointStyle: 'cross', pointRadius: 5.5, borderColor: '#000', backgroundColor: '#000', borderWidth: 2.8, pointBorderWidth: 1.6, order: 6 },
          { label: 'kDefEarly', data: ptLog(kDefEarlyPts), xAxisID: 'xBot', yAxisID: 'yLog', pointStyle: 'circle', pointRadius: 3.2, borderColor: '#ff00ff', backgroundColor: '#ff00ff', borderWidth: 0, order: 7 },
          { label: 'kDef', data: ptLog(kDefPts), xAxisID: 'xBot', yAxisID: 'yLog', showLine: true, borderColor: '#ff00ff', backgroundColor: '#ff00ff', borderWidth: 5.5, pointRadius: 3, pointBorderWidth: 0, order: 7 },
        ],
      },
      options: {
        animation: false,
        responsive: false,
        devicePixelRatio: 1,
        events: [],
        layout: { padding: { left: 140, top: 80, right: 199, bottom: 60 } },
        plugins: { legend: { display: false }, tooltip: { enabled: false }, colors: { enabled: false } } as any,
        scales: {
          xTop: {
            type: 'linear', position: 'top', min: 0, max: 700,
            afterBuildTicks: (sc: any) => { sc.ticks = kpaTicks.map((v) => ({ value: v })); },
            ticks: { display: false }, grid: { display: false, drawTicks: false },
            border: { display: true, color: '#000', width: 2 }, afterFit: zeroH,
          },
          xBot: {
            type: 'linear', position: 'bottom', min: 0, max: 70,
            afterBuildTicks: (sc: any) => { sc.ticks = defTicks.map((v) => ({ value: v })); },
            ticks: { display: false }, grid: { color: GRID, lineWidth: 1, drawTicks: false },
            border: { display: true, color: '#000', width: 2 }, afterFit: zeroH,
          },
          yDef: {
            type: 'linear', position: 'left', min: 0, max: 44, reverse: true,
            afterBuildTicks: (sc: any) => { sc.ticks = leftTicks.map((v) => ({ value: v })); },
            ticks: { display: false }, grid: { color: GRID, lineWidth: 1, drawTicks: false },
            border: { display: true, color: '#000', width: 2 }, afterFit: zeroW,
          },
          yLog: {
            type: 'logarithmic', position: 'left', min: 1e-11, max: 1,
            afterBuildTicks: (sc: any) => { sc.ticks = logExps.map((e) => ({ value: Math.pow(10, e) })); },
            ticks: { display: false }, grid: { color: GRID, lineWidth: 1, drawTicks: false },
            border: { display: true, color: '#000', width: 2 }, afterFit: zeroW,
          },
          yR: {
            type: 'linear', position: 'right', min: -10, max: 12,
            afterBuildTicks: (sc: any) => { sc.ticks = rightTicks.map((v) => ({ value: v })); },
            ticks: { display: false }, grid: { display: false, drawTicks: false },
            border: { display: true, color: '#000', width: 2 }, afterFit: zeroW,
          },
        } as any,
      },
      plugins: [decor],
    } as any);
    return () => chart.destroy();
  }, []);
  return (
    <canvas
      ref={ref}
      width={2990}
      height={1803}
      style={{ position: 'absolute', left: 0, top: 0, width: '2990px', height: '1803px', display: 'block' }}
    />
  );
}
